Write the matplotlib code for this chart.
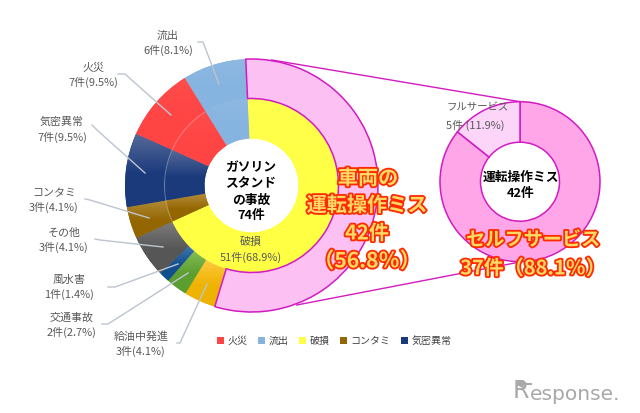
import matplotlib
matplotlib.use("Agg")
import numpy as np
import matplotlib.pyplot as plt
import matplotlib.patheffects as pe
from matplotlib.colors import LinearSegmentedColormap
from matplotlib.patches import Arc, Patch

plt.rcParams['font.family'] = ['Noto Sans CJK JP', 'DejaVu Sans']

# ---- data ----
outer_names = ['運転操作ミス', '給油中発進', '交通事故', '風水害', 'その他', 'コンタミ', '気密異常', '火災', '流出']
outer_values = [41, 3, 2, 1, 4, 3, 7, 7, 6]
inner_names = ['破損', 'コンタミ', '気密異常', '火災', '流出']
inner_values = [51, 3, 7, 7, 6]
zoom_names = ['セルフサービス', 'フルサービス']
zoom_values = [36, 6]
label_lines = {
    '流出': '6件(8.1%)', '火災': '7件(9.5%)', '気密異常': '7件(9.5%)',
    'コンタミ': '3件(4.1%)', 'その他': '3件(4.1%)', '風水害': '1件(1.4%)',
    '交通事故': '2件(2.7%)', '給油中発進': '3件(4.1%)', '破損': '51件(68.9%)',
}
legend_names = ['火災', '流出', '破損', 'コンタミ', '気密異常']

# ---- styles ----
top_col = {'火災': '#ff4d4d', '流出': '#8db8e2', '破損': '#ffff4d', 'コンタミ': '#b08a35',
           '気密異常': '#566a98', 'その他': '#7c7c7c', '風水害': '#3f75ad',
           '交通事故': '#86bd57', '給油中発進': '#ffc93f', '運転操作ミス': '#fdc0f2'}
bot_col = {'火災': '#ff4444', '流出': '#86b4e0', '破損': '#ffff44', 'コンタミ': '#946600',
           '気密異常': '#1b3a7c', 'その他': '#565656', '風水害': '#124e8e',
           '交通事故': '#5c9e30', '給油中発進': '#eeb200', '運転操作ミス': '#fdc0f2'}
MAG = '#d21bc0'
GRAY = '#595959'
LEAD = '#bcc4d0'
H = 413

fig = plt.figure(figsize=(6.4, 4.13), dpi=100)
ax = fig.add_axes([0, 0, 1, 1])


def gradient(wedge, name):
    if top_col[name] == bot_col[name]:
        return
    bb = wedge.get_path().get_extents()
    cm = LinearSegmentedColormap.from_list('g', [(0, top_col[name]), (0.55, bot_col[name]), (1, bot_col[name])])
    im = ax.imshow(np.linspace(0, 1, 64).reshape(-1, 1), cmap=cm, aspect='auto', origin='upper',
                   extent=(bb.x0, bb.x1, bb.y0, bb.y1), zorder=wedge.get_zorder() + 0.1)
    im.set_clip_path(wedge)


cx, cy, R1, R2, R0 = 251.5, H - 185.5, 126.5, 87, 47
start = 90 + 2.6
w_outer, _ = ax.pie(outer_values, center=(cx, cy), radius=R1, startangle=start, counterclock=False,
                    colors=[bot_col[n] for n in outer_names], wedgeprops=dict(width=R1 - R2, lw=0))
w_inner, _ = ax.pie(inner_values, center=(cx, cy), radius=R2, startangle=start, counterclock=False,
                    colors=[bot_col[n] for n in inner_names], wedgeprops=dict(width=R2 - R0, lw=0))
for w, n in list(zip(w_outer, outer_names)) + list(zip(w_inner, inner_names)):
    w.set_zorder(2)
    gradient(w, n)
w_outer[0].set_edgecolor(MAG)
w_outer[0].set_linewidth(1.1)
w_outer[0].set_zorder(3)
# faint ring boundary on the left half
ax.add_patch(Arc((cx, cy), 2 * R2, 2 * R2, theta1=122, theta2=204, color='white', alpha=0.25, lw=0.8, zorder=4))

# zoomed doughnut
zx, zy, Z1, Z0 = 520, H - 181.7, 80, 39.5
w_zoom, _ = ax.pie(zoom_values, center=(zx, zy), radius=Z1, startangle=90, counterclock=False,
                   colors=['#ffa6e8', '#fdd5f8'],
                   wedgeprops=dict(width=Z1 - Z0, lw=1.1, edgecolor=MAG))

# connector lines
ax.plot([271.7, 520], [H - 60, H - 101.7], color=MAG, lw=1, zorder=1.5)
ax.plot([296.7, 520], [H - 305, H - 262], color=MAG, lw=1, zorder=1.5)

# leader lines and labels
leaders = {
    '流出': [(198, 42), (203, 42), (219, 84)],
    '火災': [(118, 74), (125, 74), (171, 115)],
    '気密異常': [(92, 125), (97, 130), (145, 173)],
    'コンタミ': [(85, 199), (90, 200), (149, 218)],
    'その他': [(95, 239), (100, 240), (163, 247)],
    '風水害': [(108, 287), (115, 287), (178, 264)],
    '交通事故': [(102, 324), (108, 324), (188, 273)],
    '給油中発進': [(177, 343), (180, 343), (207, 284)],
}
for pts in leaders.values():
    ax.plot([p[0] for p in pts], [H - p[1] for p in pts], color=LEAD, lw=1.0, zorder=5)

pos = {'流出': (168, 36, 50), '火災': (93, 68, 82), '気密異常': (62, 122, 137), 'コンタミ': (54, 193, 207),
       'その他': (64, 233, 247), '風水害': (69, 280, 294), '交通事故': (72, 318, 332),
       '給油中発進': (141, 337, 351), '破損': (251, 242, 257)}
for n, (x, y1, y2) in pos.items():
    ax.text(x, H - y1, n, ha='center', va='center', fontsize=7.9, color=GRAY, zorder=6)
    ax.text(x, H - y2, label_lines[n], ha='center', va='center', fontsize=7.9, color=GRAY, zorder=6)
ax.text(478, H - 107, 'フルサービス', ha='center', va='center', fontsize=7.5, color=GRAY, zorder=6)
ax.text(475, H - 125, '5件 (11.9%)', ha='center', va='center', fontsize=7.9, color=GRAY, zorder=6)

# centre titles
for s, y in zip(['ガソリン', 'スタンド', 'の事故', '74件'], [168, 184, 200, 216]):
    ax.text(251, H - y, s, ha='center', va='center', fontsize=9.2, fontweight='bold', color='black', zorder=6)
ax.text(521, H - 177.7, '運転操作ミス', ha='center', va='center', fontsize=9.2, fontweight='bold', color='black', zorder=6)
ax.text(521, H - 193, '42件', ha='center', va='center', fontsize=9.2, fontweight='bold', color='black', zorder=6)

# call-outs
fx = [pe.withStroke(linewidth=2.6, foreground='#ff2a00')]
for s, x, y, fs in [('車両の', 368, 178, 14.5), ('運転操作ミス', 367, 205, 14.5), ('42件', 367, 233, 14.5),
                    ('（56.8％）', 367, 261, 15.2), ('セルフサービス', 533, 240, 13.8), ('37件（88.1％）', 533, 268, 14.4)]:
    ax.text(x, H - y, s, ha='center', va='center', fontsize=fs, fontweight='bold', color='#ffd966',
            path_effects=fx, zorder=7)

# legend
handles = [Patch(facecolor=bot_col[n], edgecolor='none', label=n) for n in legend_names]
ax.legend(handles=handles, ncol=5, frameon=False, loc='center', bbox_to_anchor=(334 / 640, 1 - 341 / 413),
          fontsize=7.2, handlelength=0.7, handleheight=0.7, handletextpad=0.4, columnspacing=1.0,
          labelcolor='#404040', borderpad=0)

# watermark
ax.text(513, H - 391, 'R', fontsize=17, color='#a8a8a8', family='DejaVu Sans', ha='left', va='center', zorder=6)
ax.text(530, H - 394, 'esponse.', fontsize=14.6, color='#a8a8a8', family='DejaVu Sans',
        ha='left', va='center', zorder=6)
ax.annotate('', xy=(512, H - 384), xytext=(534, H - 384),
            arrowprops=dict(arrowstyle='-|>', color='#a8a8a8', lw=1.5), zorder=6)

ax.set_xlim(0, 640)
ax.set_ylim(0, H)
ax.set_aspect('auto')
ax.axis('off')
fig.savefig('out.png', dpi=100)
